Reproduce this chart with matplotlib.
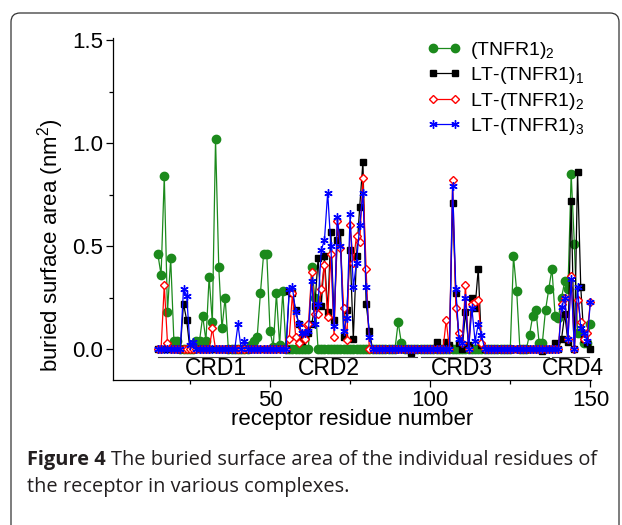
import matplotlib
matplotlib.use('Agg')
import matplotlib.pyplot as plt
from matplotlib.patches import FancyBboxPatch
from matplotlib.transforms import IdentityTransform
from matplotlib.ticker import MultipleLocator, FixedLocator

plt.rcParams['font.family'] = ['Liberation Sans', 'DejaVu Sans']
plt.rcParams['mathtext.default'] = 'regular'

# residue numbers of the receptor
residues = list(range(15, 151))

# buried surface area (nm^2), one value per residue 15..150
tnfr1_dimer = [
    0.46, 0.36, 0.84, 0.18, 0.44, 0.04, 0.04, 0.00, 0.00, 0.00,   # 15-24
    0.00, 0.00, 0.04, 0.04, 0.16, 0.04, 0.35, 0.13, 1.02, 0.40,   # 25-34
    0.10, 0.25, 0.00, 0.00, 0.00, 0.00, 0.00, 0.00, 0.00, 0.02,   # 35-44
    0.04, 0.06, 0.27, 0.46, 0.46, 0.09, 0.01, 0.27, 0.02, 0.28,   # 45-54
    0.00, 0.00, 0.00, 0.00, 0.00, 0.00, 0.00, 0.00, 0.40, 0.25,   # 55-64
    0.00, 0.00, 0.00, 0.00, 0.00, 0.00, 0.00, 0.00, 0.00, 0.00,   # 65-74
    0.00, 0.00, 0.00, 0.00, 0.00, 0.00, 0.00, 0.00, 0.00, 0.00,   # 75-84
    0.00, 0.00, 0.00, 0.00, 0.00, 0.13, 0.03, 0.00, 0.00, 0.00,   # 85-94
    0.00, 0.00, 0.00, 0.00, 0.00, 0.00, 0.00, 0.00, 0.00, 0.00,   # 95-104
    0.00, 0.00, 0.00, 0.00, 0.00, 0.00, 0.00, 0.00, 0.00, 0.00,   # 105-114
    0.00, 0.00, 0.00, 0.00, 0.00, 0.00, 0.00, 0.00, 0.00, 0.00,   # 115-124
    0.00, 0.45, 0.28, 0.00, 0.00, 0.00, 0.07, 0.16, 0.19, 0.03,   # 125-134
    0.03, 0.19, 0.29, 0.39, 0.16, 0.15, 0.25, 0.33, 0.29, 0.85,   # 135-144
    0.51, 0.08, 0.08, 0.03, 0.03, 0.12,                           # 145-150
]
lt_tnfr1_1 = [
    0.00, 0.00, 0.00, 0.00, 0.00, 0.00, 0.00, 0.00, 0.22, 0.14,
    0.00, 0.00, 0.00, 0.00, 0.00, 0.00, 0.00, 0.00, 0.00, 0.00,
    0.00, 0.00, 0.00, 0.00, 0.00, 0.00, 0.00, 0.00, 0.00, 0.00,
    0.00, 0.00, 0.00, 0.00, 0.00, 0.00, 0.00, 0.00, 0.00, 0.00,
    0.00, 0.28, 0.27, 0.19, 0.12, 0.04, 0.06, 0.08, 0.12, 0.21,
    0.44, 0.21, 0.45, 0.18, 0.57, 0.14, 0.53, 0.57, 0.06, 0.19,
    0.48, 0.05, 0.45, 0.69, 0.91, 0.22, 0.09, 0.00, 0.00, 0.00,
    0.00, 0.00, 0.00, 0.00, 0.00, 0.00, 0.00, 0.00, 0.00, -0.02,
    0.00, 0.00, 0.00, 0.00, 0.00, 0.00, 0.00, 0.035, 0.00, 0.00,
    0.035, 0.02, 0.71, 0.27, 0.03, 0.00, 0.18, 0.02, 0.25, 0.20,
    0.39, 0.02, 0.00, 0.00, 0.00, 0.00, 0.00, 0.00, 0.00, 0.00,
    0.00, 0.00, 0.00, 0.00, 0.00, 0.00, 0.00, 0.00, 0.00, 0.00,
    -0.01, 0.00, 0.00, 0.00, 0.03, 0.00, 0.05, 0.17, 0.035, 0.72,
    0.00, 0.86, 0.30, 0.05, 0.03, 0.00,
]
lt_tnfr1_2 = [
    0.00, 0.00, 0.31, 0.03, 0.00, 0.00, 0.00, 0.00, 0.00, 0.00,
    0.00, 0.00, 0.00, 0.00, 0.00, 0.00, 0.00, 0.10, 0.00, 0.00,
    0.00, 0.00, 0.00, 0.00, 0.00, 0.00, 0.00, 0.00, 0.00, 0.00,
    0.00, 0.00, 0.00, 0.00, 0.00, 0.00, 0.00, 0.00, 0.00, 0.00,
    0.00, 0.05, 0.27, 0.06, 0.03, 0.10, 0.05, 0.12, 0.375, 0.17,
    0.17, 0.29, 0.41, 0.157, 0.46, 0.06, 0.62, 0.49, 0.20, 0.044,
    0.60, 0.42, 0.55, 0.52, 0.83, 0.39, 0.00, 0.00, 0.00, 0.00,
    0.00, 0.00, 0.00, 0.00, 0.00, 0.00, 0.00, 0.00, 0.00, 0.00,
    0.00, 0.00, 0.00, 0.00, 0.00, 0.00, 0.00, 0.00, 0.00, 0.00,
    0.14, 0.00, 0.82, 0.20, 0.08, 0.03, 0.31, 0.00, 0.22, 0.23,
    0.24, 0.03, 0.00, 0.00, 0.00, 0.00, 0.00, 0.00, 0.00, 0.00,
    0.00, 0.00, 0.00, 0.00, 0.00, 0.00, 0.00, 0.00, 0.00, 0.00,
    0.00, 0.00, 0.00, 0.00, 0.00, 0.00, 0.22, 0.25, 0.05, 0.355,
    0.00, 0.24, 0.13, 0.05, 0.08, 0.23,
]
lt_tnfr1_3 = [
    0.00, 0.00, 0.00, 0.00, 0.00, 0.00, 0.00, 0.00, 0.29, 0.26,
    0.02, 0.035, 0.00, 0.00, 0.00, 0.00, 0.00, 0.00, 0.00, 0.00,
    0.00, 0.00, 0.00, 0.00, 0.00, 0.12, 0.00, 0.04, 0.00, 0.00,
    0.00, 0.00, 0.00, 0.00, 0.00, 0.00, 0.00, 0.00, 0.00, 0.00,
    0.00, 0.29, 0.30, 0.18, 0.12, 0.08, 0.08, 0.09, 0.33, 0.12,
    0.22, 0.48, 0.53, 0.76, 0.50, 0.11, 0.64, 0.50, 0.09, 0.15,
    0.655, 0.30, 0.42, 0.60, 0.76, 0.30, 0.06, 0.00, 0.00, 0.00,
    0.00, 0.00, 0.00, 0.00, 0.00, 0.00, 0.00, 0.00, 0.00, 0.00,
    0.00, 0.00, 0.00, 0.00, 0.00, 0.00, 0.00, 0.00, 0.00, 0.00,
    0.00, 0.00, 0.79, 0.29, 0.05, 0.03, 0.25, 0.00, 0.20, 0.04,
    0.12, 0.07, 0.00, 0.00, 0.00, 0.00, 0.00, 0.00, 0.00, 0.00,
    0.00, 0.00, 0.00, 0.00, 0.00, 0.00, 0.00, 0.00, 0.00, 0.00,
    0.00, 0.00, 0.00, 0.00, 0.00, 0.00, 0.205, 0.25, 0.05, 0.34,
    0.00, 0.30, 0.10, 0.076, 0.04, 0.23,
]

# cysteine-rich domains: name, first and last residue
crd_names = ['CRD1', 'CRD2', 'CRD3', 'CRD4']
crd_start = [15, 54, 97, 138]
crd_end = [53, 96, 137, 149.5]
crd_label_x = [33, 68.5, 110, 144.5]

fig = plt.figure(figsize=(6.22, 5.25), dpi=100)
ax = fig.add_axes([0.1817, 0.2762, 0.7685, 0.6514])

ax.plot(residues, tnfr1_dimer, color='#1c8a1c', lw=0.9, marker='o', ms=6,
        label='(TNFR1)$_2$', clip_on=False)
ax.plot(residues, lt_tnfr1_1, color='black', lw=0.9, marker='s', ms=4.8,
        label='LT-(TNFR1)$_1$', clip_on=False)
ax.plot(residues, lt_tnfr1_2, color='#ff0000', lw=0.9, marker='D', ms=4.2,
        mfc='white', mew=1.0, label='LT-(TNFR1)$_2$', clip_on=False)
ax.plot(residues, lt_tnfr1_3, color='#0000ff', lw=0.9, marker=(6, 2, 0), ms=6,
        mew=1.0, label='LT-(TNFR1)$_3$', clip_on=False)

# domain bars under the curves
for name, s, e, lx in zip(crd_names, crd_start, crd_end, crd_label_x):
    ax.plot([s, e], [-0.037, -0.037], color='#444444', lw=0.8)
    ax.text(lx, -0.095, name, ha='center', va='center', fontsize=16.5)

ax.set_xlim(1, 150.2)
ax.set_ylim(-0.15, 1.51)
ax.spines['top'].set_visible(False)
ax.spines['right'].set_visible(False)
for s in ['left', 'bottom']:
    ax.spines[s].set_linewidth(0.9)

ax.xaxis.set_major_locator(FixedLocator([50, 100, 150]))
ax.xaxis.set_minor_locator(MultipleLocator(25))
ax.yaxis.set_major_locator(MultipleLocator(0.5))
ax.yaxis.set_minor_locator(MultipleLocator(0.25))
ax.tick_params(which='major', length=5, width=0.9, labelsize=16, pad=2)
ax.tick_params(which='minor', length=3, width=0.9)

ax.set_xlabel('receptor residue number', fontsize=16)
ax.xaxis.set_label_coords(0.5, -0.084)
ax.set_ylabel('buried surface area (nm$^2$)', fontsize=16)
ax.yaxis.set_label_coords(-0.098, 0.395)

ax.legend(loc='upper left', bbox_to_anchor=(427 / 622, 1 - 40 / 525),
          bbox_transform=fig.transFigure, frameon=False, fontsize=14,
          handlelength=1.75, handletextpad=0.45, labelspacing=0.22,
          borderpad=0, borderaxespad=0, numpoints=2)

# rounded frame of the figure panel
frame = FancyBboxPatch((11, -20), 608, 532, boxstyle='round,pad=0,rounding_size=9',
                       transform=IdentityTransform(), fill=False,
                       edgecolor='#333333', lw=0.9)
fig.patches.append(frame)

# caption
cap_font = ['Open Sans', 'DejaVu Sans']
t1 = fig.text(27 / 622, 1 - 465 / 525, 'Figure 4', fontsize=14.4, fontweight='bold',
              family=cap_font, color='#231f20')
r = fig.canvas.get_renderer()
bb = t1.get_window_extent(r)
fig.text(bb.x1 / 622 + 5 / 622, 1 - 465 / 525,
         'The buried surface area of the individual residues of',
         fontsize=14.4, family=cap_font, color='#231f20')
fig.text(27 / 622, 1 - 492 / 525, 'the receptor in various complexes.',
         fontsize=14.4, family=cap_font, color='#231f20')

fig.savefig('out.png', dpi=100)
